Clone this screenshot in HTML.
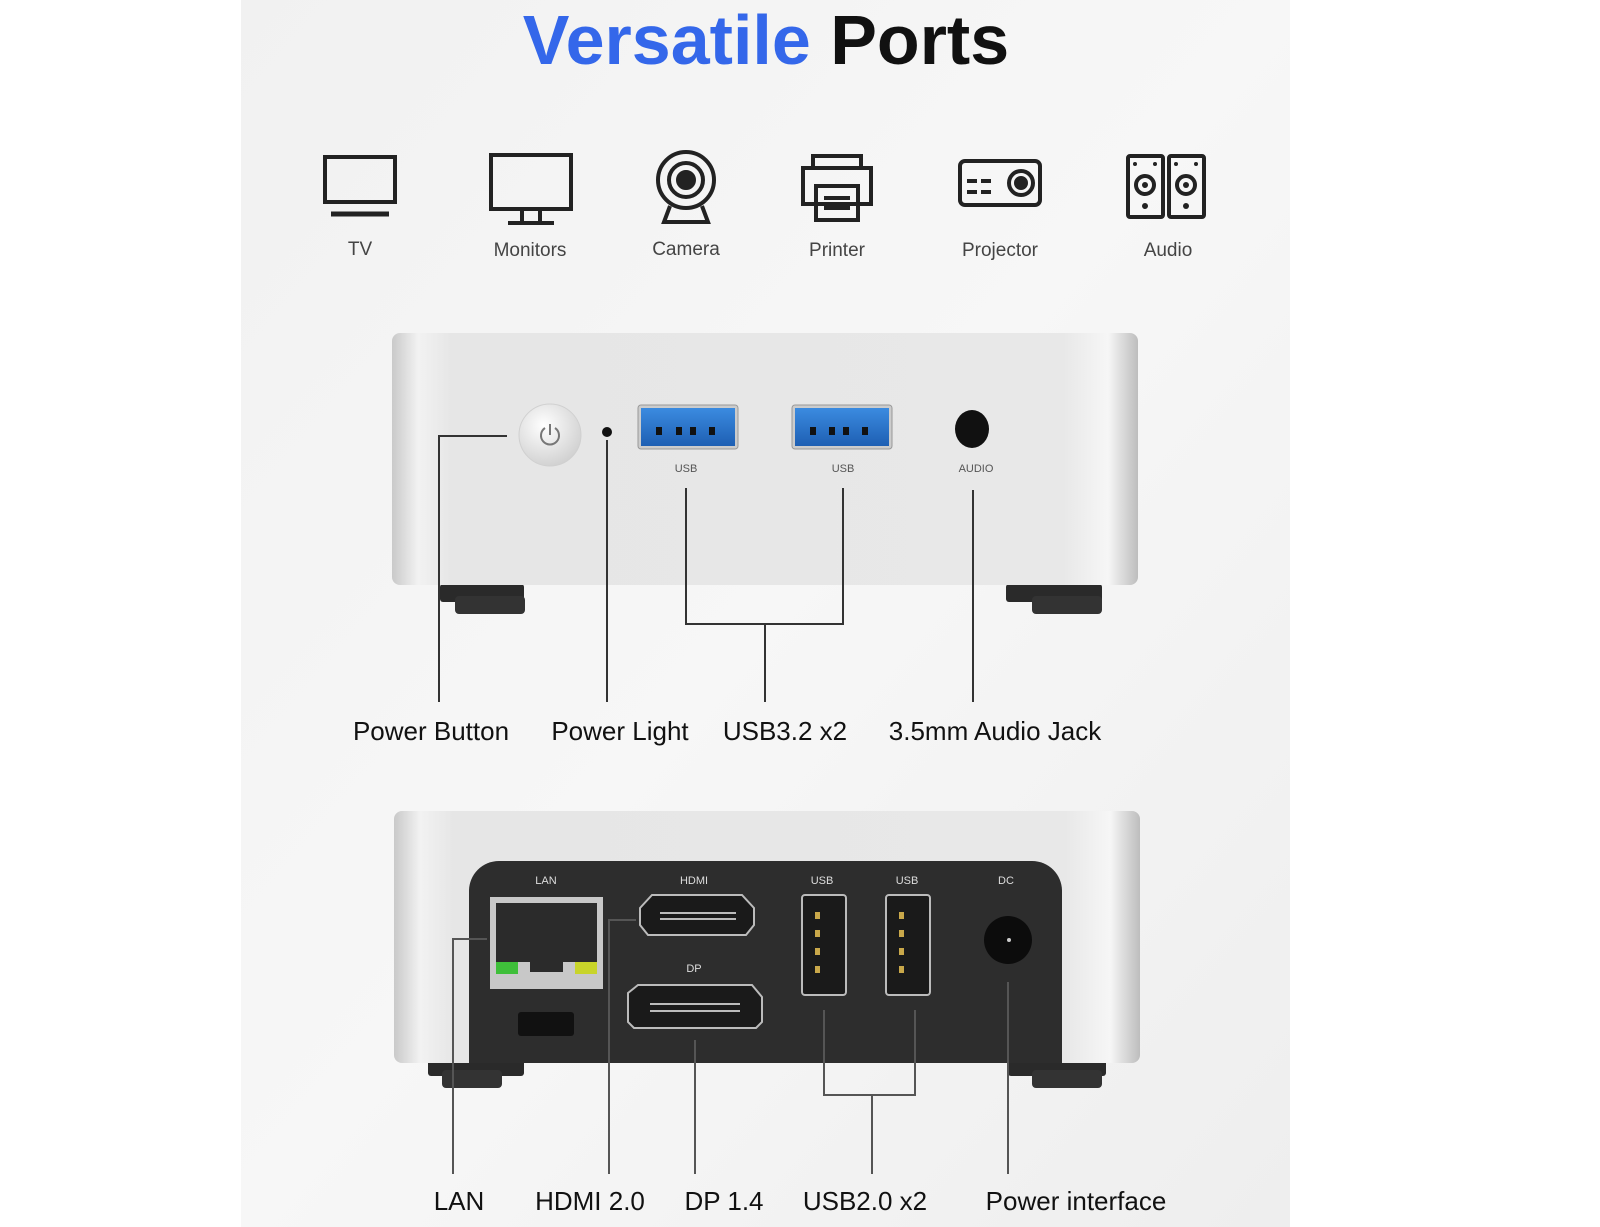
<!DOCTYPE html>
<html><head><meta charset="utf-8"><style>
html,body{margin:0;padding:0;background:#fff;}
svg{display:block}
text{font-family:"Liberation Sans",sans-serif}
</style></head><body>
<svg width="1600" height="1227" viewBox="0 0 1600 1227" xmlns="http://www.w3.org/2000/svg">
<defs>
<linearGradient id="bg" x1="0" y1="0" x2="1" y2="1">
<stop offset="0" stop-color="#f1f1f1"/><stop offset="0.5" stop-color="#f7f7f7"/><stop offset="1" stop-color="#eeeeee"/>
</linearGradient>
<linearGradient id="body" x1="0" y1="0" x2="1" y2="0">
<stop offset="0" stop-color="#c9c9c9"/><stop offset="0.035" stop-color="#f2f2f2"/><stop offset="0.08" stop-color="#e6e6e6"/><stop offset="0.9" stop-color="#e8e8e8"/><stop offset="0.96" stop-color="#f6f6f6"/><stop offset="1" stop-color="#bdbdbd"/>
</linearGradient>
<linearGradient id="usbb" x1="0" y1="0" x2="0" y2="1">
<stop offset="0" stop-color="#3b8be0"/><stop offset="1" stop-color="#1e5fb3"/>
</linearGradient>
<radialGradient id="btn" cx="0.4" cy="0.35" r="0.7">
<stop offset="0" stop-color="#ffffff"/><stop offset="1" stop-color="#cfcfcf"/>
</radialGradient>
</defs>
<rect width="1600" height="1227" fill="#fff"/>
<rect x="241" y="0" width="1049" height="1227" fill="url(#bg)"/>

<text x="766" y="64" text-anchor="middle" font-size="70" font-weight="bold"><tspan fill="#3467ea">Versatile</tspan><tspan fill="#111"> Ports</tspan></text>

<!-- icons -->
<g fill="none" stroke="#222" stroke-width="4">
<rect x="325" y="157" width="70" height="45"/>
<line x1="331" y1="214" x2="389" y2="214" stroke-width="5"/>
<rect x="491" y="155" width="80" height="54"/>
<path d="M522 209v14M540 209v14M508 223h46"/>
<circle cx="686" cy="180" r="28"/><circle cx="686" cy="180" r="17"/><circle cx="686" cy="180" r="8" fill="#222"/>
<path d="M670 206l-6 16h44l-6-16"/>
<rect x="813" y="156" width="48" height="12"/><rect x="803" y="168" width="68" height="36"/><rect x="816" y="186" width="42" height="34"/>
<path d="M824 198h26M824 208h26"/>
<rect x="960" y="161" width="80" height="44" rx="5"/><circle cx="1021" cy="183" r="12"/><circle cx="1021" cy="183" r="5" fill="#222"/>
<path d="M967 181h10M981 181h10M967 192h10M981 192h10"/>
<rect x="1128" y="156" width="35" height="61" rx="2"/><rect x="1169" y="156" width="35" height="61" rx="2"/>
<circle cx="1145" cy="185" r="9"/><circle cx="1186" cy="185" r="9"/>
</g>
<g fill="#222"><circle cx="1145" cy="185" r="3"/><circle cx="1186" cy="185" r="3"/><circle cx="1135" cy="164" r="2"/><circle cx="1155" cy="164" r="2"/><circle cx="1176" cy="164" r="2"/><circle cx="1196" cy="164" r="2"/><circle cx="1145" cy="206" r="3"/><circle cx="1186" cy="206" r="3"/></g>
<g font-size="19" fill="#444" text-anchor="middle">
<text x="360" y="255">TV</text><text x="530" y="256">Monitors</text><text x="686" y="255">Camera</text><text x="837" y="256">Printer</text><text x="1000" y="256">Projector</text><text x="1168" y="256">Audio</text>
</g>

<!-- front box -->
<g fill="#2a2a2a">
<rect x="440" y="584" width="84" height="18" rx="3"/><rect x="455" y="596" width="70" height="18" rx="4" fill="#333"/>
<rect x="1006" y="584" width="96" height="18" rx="3"/><rect x="1032" y="596" width="70" height="18" rx="4" fill="#333"/>
</g>
<rect x="392" y="333" width="746" height="252" rx="8" fill="url(#body)"/>
<circle cx="550" cy="435" r="31" fill="url(#btn)" stroke="#d0d0d0"/>
<path d="M545 428a9 9 0 1 0 10 0M550 424v11" fill="none" stroke="#777" stroke-width="2"/>
<circle cx="607" cy="432" r="5" fill="#111"/>
<rect x="638" y="405" width="100" height="44" rx="3" fill="#ccc" stroke="#999"/>
<rect x="641" y="408" width="94" height="38" fill="url(#usbb)"/>
<rect x="792" y="405" width="100" height="44" rx="3" fill="#ccc" stroke="#999"/>
<rect x="795" y="408" width="94" height="38" fill="url(#usbb)"/>
<g fill="#111"><rect x="656" y="427" width="6" height="8"/><rect x="676" y="427" width="6" height="8"/><rect x="690" y="427" width="6" height="8"/><rect x="709" y="427" width="6" height="8"/>
<rect x="810" y="427" width="6" height="8"/><rect x="829" y="427" width="6" height="8"/><rect x="843" y="427" width="6" height="8"/><rect x="862" y="427" width="6" height="8"/></g>
<ellipse cx="972" cy="429" rx="17" ry="19" fill="#111"/>
<g font-size="11" fill="#555" text-anchor="middle"><text x="686" y="472">USB</text><text x="843" y="472">USB</text><text x="976" y="472">AUDIO</text></g>
<g fill="none" stroke="#333" stroke-width="2">
<path d="M507 436H439V702"/><path d="M607 440V702"/>
<path d="M686 488V624H843V488M765 624V702"/><path d="M973 490V702"/>
</g>
<g font-size="26" fill="#111" text-anchor="middle">
<text x="431" y="740">Power Button</text><text x="620" y="740">Power Light</text><text x="785" y="740">USB3.2 x2</text><text x="995" y="740">3.5mm Audio Jack</text>
</g>

<!-- back box -->
<g fill="#2a2a2a">
<rect x="428" y="1060" width="96" height="16" rx="3"/><rect x="442" y="1070" width="60" height="18" rx="4" fill="#333"/>
<rect x="1008" y="1060" width="98" height="16" rx="3"/><rect x="1032" y="1070" width="70" height="18" rx="4" fill="#333"/>
</g>
<rect x="394" y="811" width="746" height="252" rx="8" fill="url(#body)"/>
<path d="M469 1063V891a30 30 0 0 1 30-30H1032a30 30 0 0 1 30 30V1063Z" fill="#2d2d2d"/>
<g font-size="11" fill="#ddd" text-anchor="middle"><text x="546" y="884">LAN</text><text x="694" y="884">HDMI</text><text x="822" y="884">USB</text><text x="907" y="884">USB</text><text x="1006" y="884">DC</text><text x="694" y="972">DP</text></g>
<rect x="490" y="897" width="113" height="92" fill="#c8c8c8"/>
<rect x="496" y="903" width="101" height="71" fill="#2b2b2b"/>
<rect x="496" y="962" width="22" height="12" fill="#3fbf3a"/><rect x="575" y="962" width="22" height="12" fill="#c8d42a"/>
<path d="M518 962h12v10h33v-10h12v13h-57z" fill="#c8c8c8"/>
<rect x="518" y="1012" width="56" height="24" rx="3" fill="#111"/>
<path d="M640 908l12-13h90l12 13v17l-8 10H648l-8-10z" fill="#1a1a1a" stroke="#bbb" stroke-width="2"/>
<path d="M628 993l10-8h114l10 12v25l-6 6H634l-6-6z" fill="#1a1a1a" stroke="#bbb" stroke-width="2"/>
<g fill="#bbb"><rect x="660" y="912" width="76" height="2"/><rect x="660" y="918" width="76" height="2"/><rect x="650" y="1003" width="90" height="2"/><rect x="650" y="1010" width="90" height="2"/></g>
<rect x="802" y="895" width="44" height="100" rx="3" fill="#1a1a1a" stroke="#bbb" stroke-width="2"/>
<rect x="886" y="895" width="44" height="100" rx="3" fill="#1a1a1a" stroke="#bbb" stroke-width="2"/>
<g fill="#c9a84a"><rect x="815" y="912" width="5" height="7"/><rect x="815" y="930" width="5" height="7"/><rect x="815" y="948" width="5" height="7"/><rect x="815" y="966" width="5" height="7"/>
<rect x="899" y="912" width="5" height="7"/><rect x="899" y="930" width="5" height="7"/><rect x="899" y="948" width="5" height="7"/><rect x="899" y="966" width="5" height="7"/></g>
<circle cx="1008" cy="940" r="24" fill="#0c0c0c"/><circle cx="1009" cy="940" r="2" fill="#ccc"/>
<g fill="none" stroke="#555" stroke-width="2">
<path d="M487 939H453V1174"/><path d="M636 920H609V1174"/><path d="M695 1040V1174"/>
<path d="M824 1010V1095H915V1010M872 1095V1174"/><path d="M1008 982V1174"/>
</g>
<g font-size="26" fill="#111" text-anchor="middle">
<text x="459" y="1210">LAN</text><text x="590" y="1210">HDMI 2.0</text><text x="724" y="1210">DP 1.4</text><text x="865" y="1210">USB2.0 x2</text><text x="1076" y="1210">Power interface</text>
</g>
</svg>
</body></html>
